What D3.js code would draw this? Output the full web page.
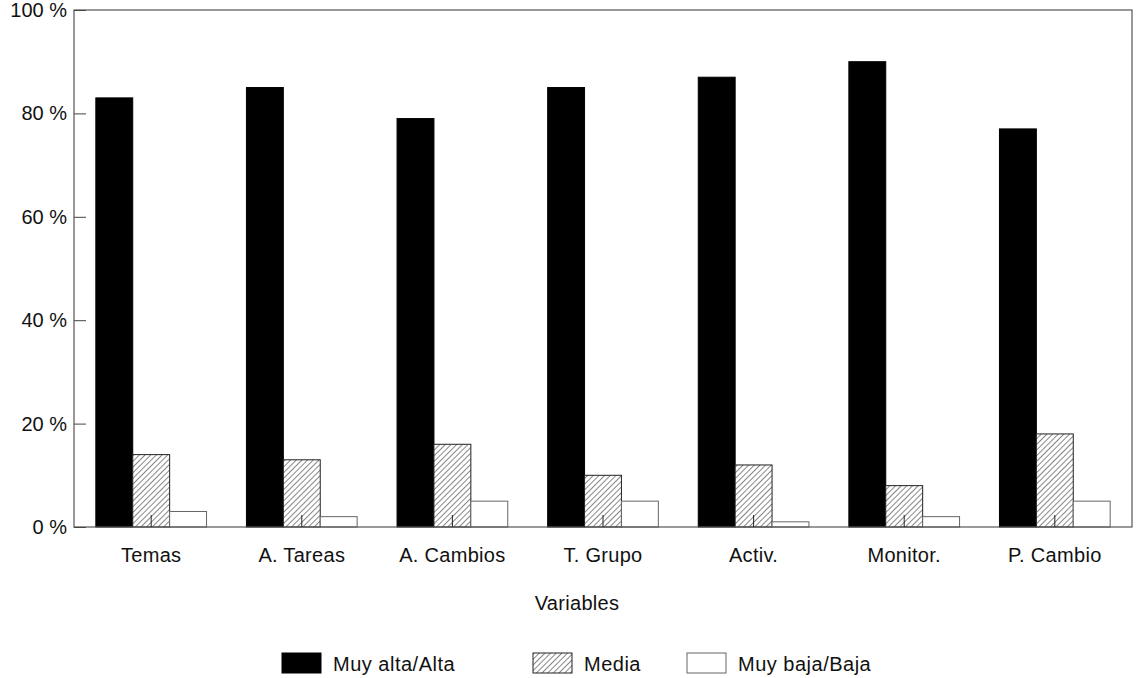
<!DOCTYPE html>
<html>
<head>
<meta charset="utf-8">
<script src="https://cdn.jsdelivr.net/npm/d3@7"></script>
<style>
  html, body { margin: 0; padding: 0; background: #fff; }
  text { font-family: "Liberation Sans", Arial, Helvetica, sans-serif; fill: #111; }
</style>
</head>
<body>
<svg id="chart" width="1137" height="678"></svg>
<script>
const categories = ["Temas", "A. Tareas", "A. Cambios", "T. Grupo", "Activ.", "Monitor.", "P. Cambio"];
const seriesNames = ["Muy alta/Alta", "Media", "Muy baja/Baja"];
const muyAlta = [83, 85, 79, 85, 87, 90, 77];
const media = [14, 13, 16, 10, 12, 8, 18];
const muyBaja = [3, 2, 5, 5, 1, 2, 5];
const yTicks = [0, 20, 40, 60, 80, 100];
const xTitle = "Variables";

(function () {
const seriesValues = [muyAlta, media, muyBaja];
const svg = d3.select("#chart");

const pLeft = 74, pRight = 1132, pTop = 10, pBottom = 527;

const defs = svg.append("defs");
const pat = defs.append("pattern")
  .attr("id", "hatch")
  .attr("patternUnits", "userSpaceOnUse")
  .attr("width", 4).attr("height", 4)
  .attr("patternTransform", "rotate(45)");
pat.append("rect").attr("width", 4).attr("height", 4).attr("fill", "#fff");
pat.append("line").attr("x1", 0).attr("y1", 0).attr("x2", 0).attr("y2", 4)
  .attr("stroke", "#222").attr("stroke-width", 1.1);

const fills = ["#000", "url(#hatch)", "#fff"];
const strokes = ["#000", "#222", "#666"];

const x0 = d3.scaleBand().domain(categories).range([pLeft, pRight])
  .paddingInner(0.265).paddingOuter(0.145);
const x1 = d3.scaleBand().domain(d3.range(seriesNames.length)).range([0, x0.bandwidth()]);
const y = d3.scaleLinear().domain([0, 100]).range([pBottom, pTop]);

// bars
const groups = svg.append("g").selectAll("g")
  .data(categories)
  .join("g")
  .attr("transform", d => `translate(${x0(d)},0)`);

groups.selectAll("rect")
  .data((c, i) => seriesValues.map((vals, s) => ({ s, v: vals[i] })))
  .join("rect")
  .attr("x", d => x1(d.s))
  .attr("y", d => y(d.v))
  .attr("width", x1.bandwidth())
  .attr("height", d => y(0) - y(d.v))
  .attr("fill", d => fills[d.s])
  .attr("stroke", d => strokes[d.s])
  .attr("stroke-width", 1);

// frame
svg.append("rect")
  .attr("x", pLeft).attr("y", pTop)
  .attr("width", pRight - pLeft).attr("height", pBottom - pTop)
  .attr("fill", "none").attr("stroke", "#555").attr("stroke-width", 1.2);

// y axis (ticks pointing inward)
const yAxis = svg.append("g")
  .attr("transform", `translate(${pLeft},0)`)
  .call(d3.axisRight(y).tickValues(yTicks).tickSize(12).tickFormat(""));
yAxis.select(".domain").remove();
yAxis.selectAll(".tick line").attr("stroke", "#444");

svg.append("g").selectAll("text")
  .data(yTicks)
  .join("text")
  .attr("x", 67)
  .attr("y", d => y(d))
  .attr("dy", "0.35em")
  .attr("text-anchor", "end")
  .attr("font-size", 20)
  .text(d => d + " %");

// x axis ticks (inward) and labels
const xAxis = svg.append("g")
  .attr("transform", `translate(0,${pBottom})`)
  .call(d3.axisTop(x0).tickSize(12).tickFormat(""));
xAxis.select(".domain").remove();
xAxis.selectAll(".tick line").attr("stroke", "#222");

svg.append("g").selectAll("text")
  .data(categories)
  .join("text")
  .attr("x", d => x0(d) + x0.bandwidth() / 2)
  .attr("y", 562)
  .attr("text-anchor", "middle")
  .attr("font-size", 20)
  .attr("letter-spacing", 0.3)
  .text(d => d);

svg.append("text")
  .attr("x", 577).attr("y", 610)
  .attr("text-anchor", "middle")
  .attr("font-size", 20)
  .attr("letter-spacing", 0.3)
  .text(xTitle);

// legend
const legendX = [282, 533, 687];
const leg = svg.append("g").selectAll("g")
  .data(seriesNames)
  .join("g")
  .attr("transform", (d, i) => `translate(${legendX[i]},653)`);
leg.append("rect")
  .attr("width", 39).attr("height", 20)
  .attr("fill", (d, i) => fills[i])
  .attr("stroke", (d, i) => strokes[i]);
leg.append("text")
  .attr("x", 51).attr("y", 18)
  .attr("font-size", 20)
  .attr("letter-spacing", 0.5)
  .text(d => d);
})();
</script>
</body>
</html>
